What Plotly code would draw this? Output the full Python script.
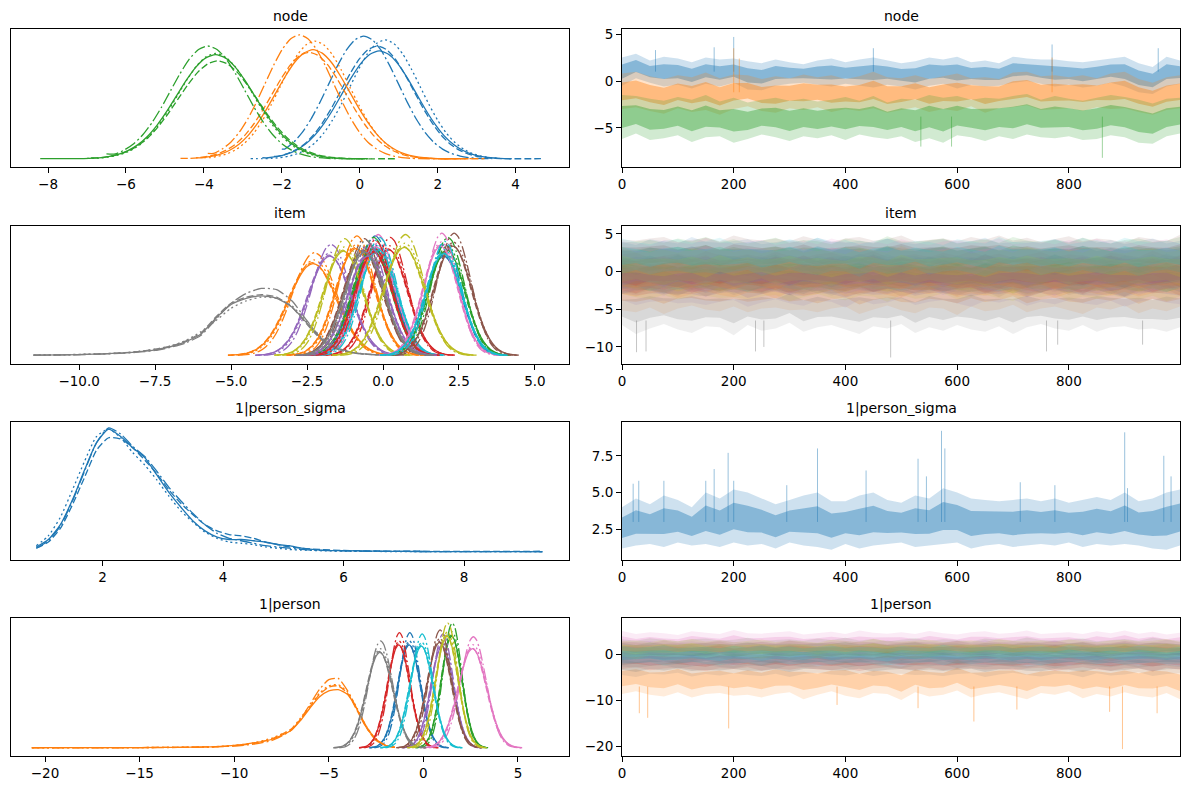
import numpy as np
import plotly.graph_objects as go

# -- style --
TAB10 = ["#1f77b4", "#ff7f0e", "#2ca02c", "#d62728", "#9467bd",
         "#8c564b", "#e377c2", "#7f7f7f", "#bcbd22", "#17becf"]
CHAIN_DASH = ["solid", "7px,3px", "12px,3px,2px,3px", "2px,3px"]
FONT = "DejaVu Sans"

# -- data --
draw_grid = list(range(0, 1000, 25)) + [999]

# peak-normalised KDE shape (z in sd units)
kde_z = [-3.5, -3.25, -3.0, -2.75, -2.5, -2.25, -2.0, -1.75, -1.5, -1.25, -1.0, -0.75, -0.5, -0.25,
         0.0, 0.25, 0.5, 0.75, 1.0, 1.25, 1.5, 1.75, 2.0, 2.25, 2.5, 2.75, 3.0, 3.25, 3.5]
kde_shape = [0.002, 0.005, 0.011, 0.023, 0.044, 0.080, 0.135, 0.216, 0.325, 0.458, 0.607, 0.755, 0.883, 0.969,
             1.0, 0.969, 0.883, 0.755, 0.607, 0.458, 0.325, 0.216, 0.135, 0.080, 0.044, 0.023, 0.011, 0.005, 0.002]

# chain differences (solid, dashed, dash-dot, dotted)
chain_peak = [1.0, 1.01, 1.12, 1.04]
chain_sd = [1.0, 0.99, 0.9, 0.97]
chain_shift = [0.0, -0.04, 0.06, 0.03]

# node: blue, orange, green ; one entry per chain
node_loc = [[0.5, 0.45, 0.1, 0.65], [-1.2, -1.3, -1.55, -1.15], [-3.7, -3.65, -3.9, -3.7]]
node_sd = [[0.95, 0.93, 0.9, 0.9], [0.95, 0.95, 0.88, 0.9], [1.0, 1.02, 0.95, 0.97]]
node_peak = [[0.87, 0.91, 0.99, 0.96], [0.88, 0.86, 1.0, 0.95], [0.84, 0.79, 0.91, 0.85]]
node_lo = [[-2.5, -2.2, -2.0, -2.8], [-4.2, -4.6, -3.9, -4.0], [-8.2, -6.9, -6.5, -7.0]]
node_hi = [[3.9, 4.65, 3.4, 3.6], [2.6, 3.2, 2.7, 2.9], [0.2, 0.9, 0.0, 0.3]]

node_blue_hi = [2.5, 2.9, 2.2, 2.6, 2.4, 2.0, 2.5, 2.3, 2.4, 2.1,
                1.9, 2.3, 2.0, 1.8, 2.2, 2.4, 2.0, 2.3, 2.5, 2.2,
                1.9, 2.1, 2.5, 2.3, 2.6, 2.0, 2.2, 1.9, 2.6, 2.4,
                2.3, 2.3, 2.1, 2.0, 2.2, 2.4, 2.6, 1.9, 1.5, 2.6, 2.2]
node_blue_lo = [-0.5, 0.3, -0.2, -0.6, -0.4, -0.8, -0.3, -0.6, -0.2, -0.9,
                -1.0, -0.5, -0.3, -0.2, -0.4, -0.6, -0.3, -0.5, -0.7, -0.4,
                -0.6, -0.9, -0.5, -0.3, -0.8, -0.4, -0.6, -0.5, -0.2, 0.0,
                -0.3, -0.6, -0.4, -0.7, -0.5, -0.2, -0.6, -1.2, -1.4, -0.6, -0.3]
node_orange_hi = [0.8, 1.0, 0.5, 0.2, 0.6, 0.4, 0.9, 0.3, 0.7, 0.6,
                  0.2, 0.5, 0.3, 0.7, 0.4, 0.6, 0.2, 0.5, 1.0, 0.4,
                  0.3, 0.6, 0.2, 0.5, 0.8, 0.3, 0.4, 0.2, 0.9, 1.0,
                  0.5, 0.6, 0.4, 0.6, 0.3, 0.8, 1.0, 0.2, -0.2, 0.4, 0.6]
node_orange_lo = [-3.0, -2.8, -3.2, -3.5, -2.9, -3.3, -3.1, -3.6, -3.0, -2.7,
                  -3.2, -3.4, -2.9, -3.1, -2.8, -3.3, -3.0, -3.2, -2.9, -3.4,
                  -3.1, -2.8, -3.3, -3.0, -3.2, -2.7, -3.4, -2.9, -2.8, -2.6,
                  -3.1, -3.0, -2.9, -3.2, -2.8, -3.0, -2.9, -3.3, -3.6, -3.1, -2.9]
node_green_hi = [-1.5, -1.6, -1.9, -2.1, -1.7, -2.0, -1.5, -2.2, -1.8, -2.3,
                 -2.0, -1.8, -2.1, -1.9, -2.2, -2.0, -1.7, -2.1, -1.6, -2.3,
                 -1.9, -2.0, -1.5, -1.8, -1.6, -2.0, -1.8, -1.9, -1.6, -1.4,
                 -2.0, -1.6, -1.9, -2.1, -1.8, -1.5, -1.7, -2.0, -2.4, -1.9, -1.8]
node_green_lo = [-6.2, -5.6, -6.3, -6.1, -5.8, -6.5, -6.0, -5.9, -6.6, -6.2,
                 -5.7, -6.0, -6.4, -5.9, -6.1, -5.8, -6.3, -5.7, -6.0, -6.2,
                 -5.9, -6.5, -6.1, -6.6, -5.8, -6.0, -6.4, -5.9, -6.2, -5.7,
                 -6.0, -6.1, -5.9, -6.3, -6.2, -5.8, -6.0, -6.6, -6.7, -5.9, -5.6]
node_spike_draw = [[60, 165, 200, 450, 770, 960], [200, 210, 770], [535, 590, 860]]
node_spike_val = [[3.3, 3.6, 4.7, 3.5, 3.9, 3.5], [3.5, 2.4, 2.5], [-7.0, -7.0, -8.2]]
node_spike_base = [1.0, -1.2, -3.8]

# item: 20 coordinates, colours cycle through tab10
item_loc = [-0.3, -2.3, -0.35, 0.2, -1.75, -0.65, -0.2, -3.9, -1.3, -0.15,
            2.0, -0.9, 2.1, -0.3, -0.5, 2.3, 1.9, -0.6, 0.7, 2.0]
item_sd = [0.65, 0.8, 0.65, 0.62, 0.7, 0.65, 0.62, 1.2, 0.65, 0.62,
           0.6, 0.65, 0.6, 0.62, 0.65, 0.62, 0.58, 0.65, 0.68, 0.6]
item_peak = [0.86, 0.74, 0.85, 0.85, 0.8, 0.84, 0.87, 0.48, 0.84, 0.85,
             0.8, 0.86, 0.85, 0.83, 0.8, 0.88, 0.88, 0.83, 0.87, 0.82]
item_trace_mid = [-0.3, -2.4, -0.35, 0.2, -1.8, -0.7, -0.2, -4.4, -1.3, -0.15,
                  2.0, -0.9, 2.1, -0.3, -0.5, 2.3, 1.9, -0.6, 0.7, 2.0]
item_trace_up = [2.0, 2.1, 2.0, 1.9, 2.0, 2.0, 1.9, 2.1, 2.0, 1.9,
                 1.9, 2.0, 1.9, 1.9, 2.0, 1.9, 1.9, 2.0, 2.0, 1.9]
item_trace_dn = [2.0, 2.5, 2.0, 1.9, 2.2, 2.0, 2.0, 3.0, 2.0, 2.0,
                 2.0, 2.0, 2.0, 2.0, 2.0, 2.0, 1.9, 2.0, 2.0, 2.0]
# item[7] (grey) has a long left tail, drawn from its own readings
item7_x = [-11.5, -10.5, -9.5, -8.5, -8.0, -7.5, -7.0, -6.5, -6.0, -5.5, -5.0,
           -4.5, -4.0, -3.5, -3.0, -2.5, -2.0, -1.5, -1.0, -0.5, 0.2]
item7_y = [
    [0.002, 0.005, 0.01, 0.02, 0.03, 0.045, 0.07, 0.11, 0.17, 0.3, 0.41, 0.46, 0.48, 0.46, 0.39, 0.26, 0.13, 0.06, 0.025, 0.01, 0.003],
    [0.002, 0.005, 0.01, 0.022, 0.032, 0.05, 0.075, 0.115, 0.18, 0.31, 0.42, 0.47, 0.49, 0.47, 0.39, 0.25, 0.12, 0.05, 0.02, 0.008, 0.003],
    [0.002, 0.004, 0.009, 0.018, 0.028, 0.04, 0.065, 0.1, 0.16, 0.29, 0.42, 0.5, 0.54, 0.53, 0.44, 0.28, 0.13, 0.05, 0.02, 0.008, 0.003],
    [0.003, 0.006, 0.012, 0.022, 0.034, 0.05, 0.075, 0.12, 0.19, 0.28, 0.38, 0.44, 0.47, 0.46, 0.4, 0.27, 0.14, 0.06, 0.025, 0.01, 0.003],
]
item_spike_draw = [26, 43, 239, 254, 481, 760, 780, 932]
item_spike_val = [-10.7, -10.6, -10.6, -10.0, -11.4, -10.6, -9.7, -9.7]

# 1|person_sigma
sigma_x = [0.9, 1.1, 1.3, 1.5, 1.7, 1.9, 2.1, 2.3, 2.5, 2.7, 2.9, 3.1, 3.3, 3.5, 3.7, 3.9,
           4.1, 4.3, 4.5, 4.7, 4.9, 5.1, 5.3, 5.6, 6.0, 6.5, 7.0, 7.5, 8.0, 8.5, 9.0, 9.3]
sigma_y = [
    [0.04, 0.10, 0.22, 0.42, 0.66, 0.88, 0.99, 0.93, 0.84, 0.76, 0.62, 0.48, 0.36, 0.25, 0.17, 0.12,
     0.10, 0.10, 0.09, 0.08, 0.06, 0.05, 0.03, 0.015, 0.01, 0.006, 0.004, 0.003, 0.002, 0.002, 0.002, 0.001],
    [0.03, 0.08, 0.19, 0.38, 0.60, 0.82, 0.92, 0.91, 0.84, 0.74, 0.63, 0.50, 0.39, 0.30, 0.22, 0.17,
     0.14, 0.13, 0.11, 0.08, 0.06, 0.04, 0.03, 0.02, 0.012, 0.008, 0.006, 0.005, 0.005, 0.004, 0.004, 0.006],
    [0.03, 0.09, 0.21, 0.41, 0.65, 0.88, 1.0, 0.95, 0.85, 0.77, 0.65, 0.52, 0.41, 0.31, 0.22, 0.15,
     0.11, 0.09, 0.07, 0.05, 0.04, 0.03, 0.02, 0.012, 0.008, 0.005, 0.004, 0.003, 0.003, 0.002, 0.002, 0.002],
    [0.05, 0.13, 0.28, 0.50, 0.73, 0.93, 0.99, 0.92, 0.80, 0.70, 0.58, 0.45, 0.33, 0.24, 0.16, 0.11,
     0.08, 0.07, 0.06, 0.04, 0.03, 0.02, 0.015, 0.01, 0.006, 0.004, 0.003, 0.002, 0.002, 0.002, 0.002, 0.002],
]
sigma_trace_hi = [4.0, 4.6, 4.2, 4.8, 4.5, 4.0, 5.0, 4.6, 5.2, 5.0,
                  4.6, 4.2, 4.5, 4.8, 5.0, 4.4, 4.4, 4.8, 5.0, 4.5,
                  4.3, 4.8, 4.6, 5.3, 5.0, 4.6, 4.5, 4.4, 4.5, 4.6,
                  4.4, 4.6, 4.3, 4.5, 4.7, 4.5, 5.0, 4.4, 4.6, 5.0, 5.2]
sigma_trace_lo = [1.2, 1.4, 1.5, 1.3, 1.6, 1.4, 1.5, 1.3, 1.6, 1.4,
                  1.5, 1.2, 1.6, 1.4, 1.3, 1.1, 1.5, 1.2, 1.4, 1.5,
                  1.6, 1.3, 1.4, 1.5, 1.6, 1.2, 1.4, 1.5, 1.3, 1.4,
                  1.5, 1.4, 1.6, 1.3, 1.5, 1.4, 1.5, 1.4, 1.2, 1.1, 1.4]
sigma_spike_draw = [20, 30, 75, 150, 165, 190, 200, 295, 350, 437, 530, 545, 572, 578, 713, 775, 900, 905, 970, 983]
sigma_spike_val = [5.6, 5.8, 5.8, 5.8, 6.6, 7.7, 5.8, 5.5, 8.0, 6.5, 7.3, 6.1, 9.2, 8.0, 5.7, 5.5, 9.1, 5.3, 7.5, 6.1]

# 1|person: 10 coordinates
person_loc = [-0.75, -4.5, 1.5, -1.3, 1.0, 0.85, 2.6, -2.3, 1.25, -0.1]
person_sd = [0.6, 1.2, 0.55, 0.6, 0.6, 0.65, 0.75, 0.7, 0.6, 0.62]
person_peak = [0.83, 0.47, 0.9, 0.83, 0.82, 0.85, 0.8, 0.77, 0.9, 0.82]
person_trace_mid = [-0.75, -4.8, 1.5, -1.3, 1.0, 0.85, 2.6, -2.3, 1.25, -0.1]
person_trace_up = [1.6, 2.6, 1.6, 1.6, 1.6, 1.6, 2.0, 1.8, 1.6, 1.6]
person_trace_dn = [1.8, 3.8, 1.7, 1.8, 1.7, 1.8, 2.0, 2.0, 1.7, 1.8]
# person[1] (orange) has a long left tail
person1_x = [-20.7, -18.0, -15.0, -13.0, -11.0, -10.0, -9.0, -8.0, -7.0, -6.5,
             -6.0, -5.5, -5.0, -4.5, -4.0, -3.5, -3.0, -2.5, -2.0, -1.5]
person1_y = [
    [0.002, 0.002, 0.003, 0.005, 0.01, 0.02, 0.04, 0.07, 0.14, 0.22, 0.32, 0.41, 0.46, 0.47, 0.43, 0.31, 0.17, 0.07, 0.02, 0.005],
    [0.002, 0.002, 0.003, 0.005, 0.01, 0.018, 0.035, 0.075, 0.15, 0.23, 0.33, 0.43, 0.49, 0.50, 0.44, 0.30, 0.16, 0.07, 0.02, 0.005],
    [0.001, 0.001, 0.002, 0.004, 0.008, 0.015, 0.03, 0.06, 0.14, 0.23, 0.35, 0.47, 0.55, 0.56, 0.46, 0.31, 0.16, 0.06, 0.02, 0.004],
    [0.001, 0.002, 0.003, 0.005, 0.01, 0.02, 0.04, 0.08, 0.15, 0.24, 0.34, 0.44, 0.50, 0.51, 0.45, 0.32, 0.17, 0.07, 0.02, 0.005],
]
person_spike_draw = [31, 46, 191, 385, 530, 630, 707, 873, 896, 958]
person_spike_val = [-12.8, -13.8, -16.1, -11.0, -11.7, -14.6, -12.0, -12.5, -20.6, -12.8]

# band edge wiggle (multiples of half-width)
trace_wig_up = [1.1, 0.9, 1.2, 1.0, 1.3, 0.95, 1.15, 0.85, 1.05, 1.25, 0.9, 1.1, 1.0, 0.8, 1.2, 1.05, 0.9, 1.35, 1.0, 0.95,
                1.1, 1.2, 0.85, 1.0, 1.15, 0.9, 1.3, 1.05, 0.95, 1.1, 0.9, 1.25, 1.0, 0.85, 1.1, 1.2, 0.95, 1.05, 1.3, 0.9, 1.0]
trace_wig_dn = [1.2, 1.0, 0.9, 1.3, 1.05, 0.85, 1.1, 1.25, 0.95, 1.0, 1.35, 0.9, 1.15, 1.05, 0.8, 1.2, 1.0, 0.9, 1.1, 1.3,
                0.95, 1.05, 0.85, 1.25, 1.0, 1.15, 0.9, 1.1, 1.2, 0.95, 1.3, 1.0, 0.85, 1.05, 1.15, 0.9, 1.2, 1.0, 0.95, 1.1, 1.05]


# -- helpers --
def _rgba(hexcol, alpha):
    h = hexcol.lstrip("#")
    return "rgba(%d, %d, %d, %s)" % (int(h[0:2], 16), int(h[2:4], 16), int(h[4:6], 16), alpha)


def bell(loc, sd, peak, lo=None, hi=None):
    x = loc + sd * np.array(kde_z)
    y = peak * np.array(kde_shape)
    if lo is not None:
        keep = (x >= lo) & (x <= hi)
        x, y = x[keep], y[keep]
        if lo < x[0]:
            x, y = np.r_[lo, x], np.r_[y[0], y]
        if hi > x[-1]:
            x, y = np.r_[x, hi], np.r_[y, y[-1]]
    return x, y


fig = go.Figure()


def add_kde(n, x, y, color, chain):
    fig.add_trace(go.Scatter(x=x, y=y, mode="lines", xaxis="x%d" % n, yaxis="y%d" % n,
                             line=dict(color=color, width=1.3, dash=CHAIN_DASH[chain], shape="spline", smoothing=0.6),
                             hoverinfo="skip", showlegend=False))


def add_band(n, hi, lo, color, a_out=0.22, a_in=0.4):
    # sampled chains drawn as a translucent band with a denser core
    hi = np.asarray(hi, dtype=float)
    lo = np.asarray(lo, dtype=float)
    mid, half = (hi + lo) / 2, (hi - lo) / 2
    for h, l, alpha in [(hi, lo, a_out), (mid + 0.5 * half, mid - 0.5 * half, a_in)]:
        xs = list(draw_grid) + list(draw_grid)[::-1]
        ys = list(h) + list(l)[::-1]
        fig.add_trace(go.Scatter(x=xs, y=ys, mode="lines", fill="toself", xaxis="x%d" % n, yaxis="y%d" % n,
                                 fillcolor=_rgba(color, alpha), line=dict(width=0),
                                 hoverinfo="skip", showlegend=False))


def add_spikes(n, draws, vals, base, color):
    xs, ys = [], []
    for d, v in zip(draws, vals):
        xs += [d, d, None]
        ys += [base, v, None]
    fig.add_trace(go.Scatter(x=xs, y=ys, mode="lines", xaxis="x%d" % n, yaxis="y%d" % n,
                             line=dict(color=_rgba(color, 0.45), width=1),
                             hoverinfo="skip", showlegend=False))


# -- node --
node_bands = [(node_blue_hi, node_blue_lo), (node_orange_hi, node_orange_lo), (node_green_hi, node_green_lo)]
for k in range(3):
    for c in range(4):
        x, y = bell(node_loc[k][c], node_sd[k][c], node_peak[k][c], node_lo[k][c], node_hi[k][c])
        add_kde(1, x, y, TAB10[k], c)
for k in range(3):
    add_band(2, node_bands[k][0], node_bands[k][1], TAB10[k])
    add_spikes(2, node_spike_draw[k], node_spike_val[k], node_spike_base[k], TAB10[k])

# -- item --
for k in range(len(item_loc)):
    col = TAB10[k % 10]
    for c in range(4):
        if k == 7:
            add_kde(3, item7_x, item7_y[c], col, c)
        else:
            x, y = bell(item_loc[k] + chain_shift[c] * item_sd[k], item_sd[k] * chain_sd[c], item_peak[k] * chain_peak[c])
            add_kde(3, x, y, col, c)
for k in range(len(item_loc)):
    hi = item_trace_mid[k] + item_trace_up[k] * np.roll(trace_wig_up, 7 * k)
    lo = item_trace_mid[k] - item_trace_dn[k] * np.roll(trace_wig_dn, 11 * k + 3)
    add_band(4, hi, lo, TAB10[k % 10], 0.12, 0.2)
add_spikes(4, item_spike_draw, item_spike_val, -6.5, TAB10[7])

# -- 1|person_sigma --
for c in range(4):
    add_kde(5, sigma_x, sigma_y[c], TAB10[0], c)
add_band(6, sigma_trace_hi, sigma_trace_lo, TAB10[0])
add_spikes(6, sigma_spike_draw, sigma_spike_val, 3.0, TAB10[0])

# -- 1|person --
for k in range(len(person_loc)):
    col = TAB10[k % 10]
    for c in range(4):
        if k == 1:
            add_kde(7, person1_x, person1_y[c], col, c)
        else:
            x, y = bell(person_loc[k] + chain_shift[c] * person_sd[k], person_sd[k] * chain_sd[c], person_peak[k] * chain_peak[c])
            add_kde(7, x, y, col, c)
for k in range(len(person_loc)):
    hi = person_trace_mid[k] + person_trace_up[k] * np.roll(trace_wig_up, 5 * k + 2)
    lo = person_trace_mid[k] - person_trace_dn[k] * np.roll(trace_wig_dn, 9 * k + 1)
    add_band(8, hi, lo, TAB10[k % 10], 0.15, 0.24)
add_spikes(8, person_spike_draw, person_spike_val, -7.0, TAB10[1])

# -- layout --
W, H = 1189, 789
col_px = [(11, 569), (622, 1180)]
row_top = [29, 225.5, 422, 618]
row_h = 138
titles = ["node", "item", "1|person_sigma", "1|person"]

kde_x = [
    dict(range=[-8.95, 5.37], tickvals=[-8, -6, -4, -2, 0, 2, 4]),
    dict(range=[-12.24, 6.12], tickvals=[-10, -7.5, -5, -2.5, 0, 2.5, 5], tickformat=".1f"),
    dict(range=[0.48, 9.74], tickvals=[2, 4, 6, 8]),
    dict(range=[-21.8, 7.7], tickvals=[-20, -15, -10, -5, 0, 5]),
]
trace_y = [
    dict(range=[-9.18, 5.55], tickvals=[-5, 0, 5]),
    dict(range=[-12.2, 6.1], tickvals=[-10, -5, 0, 5]),
    dict(range=[0.41, 9.8], tickvals=[2.5, 5.0, 7.5], tickformat=".1f"),
    dict(range=[-22.1, 7.9], tickvals=[-20, -10, 0]),
]

axis_common = dict(showline=True, mirror=True, linecolor="black", linewidth=1, showgrid=False, zeroline=False,
                   automargin=False, ticks="outside", ticklen=5, tickwidth=1, tickcolor="black",
                   tickfont=dict(family=FONT, size=13.5, color="black"))

layout = dict(width=W, height=H, autosize=False, margin=dict(l=0, r=0, t=0, b=0),
              paper_bgcolor="white", plot_bgcolor="white", showlegend=False,
              font=dict(family=FONT, size=13.5, color="black"))
annotations = []
for r in range(4):
    ydom = [1 - (row_top[r] + row_h) / H, 1 - row_top[r] / H]
    for c in range(2):
        n = 2 * r + c + 1
        xdom = [col_px[c][0] / W, col_px[c][1] / W]
        if c == 0:
            xa = dict(axis_common, domain=xdom, anchor="y%d" % n, **kde_x[r])
            ya = dict(axis_common, domain=ydom, anchor="x%d" % n, range=[-0.065, 1.047],
                      showticklabels=False, ticks="")
        else:
            xa = dict(axis_common, domain=xdom, anchor="y%d" % n, range=[0, 999],
                      tickvals=[0, 200, 400, 600, 800])
            ya = dict(axis_common, domain=ydom, anchor="x%d" % n, **trace_y[r])
        layout["xaxis%d" % n] = xa
        layout["yaxis%d" % n] = ya
        annotations.append(dict(text=titles[r], x=(xdom[0] + xdom[1]) / 2, y=ydom[1], xref="paper", yref="paper",
                                xanchor="center", yanchor="bottom", yshift=3, showarrow=False,
                                font=dict(family=FONT, size=14, color="black")))
layout["annotations"] = annotations
fig.update_layout(**layout)

# page body margin would shift the figure by 8px
fig.write_html("out.html", config={"displayModeBar": False},
               post_script="document.body.style.margin='0px';")
